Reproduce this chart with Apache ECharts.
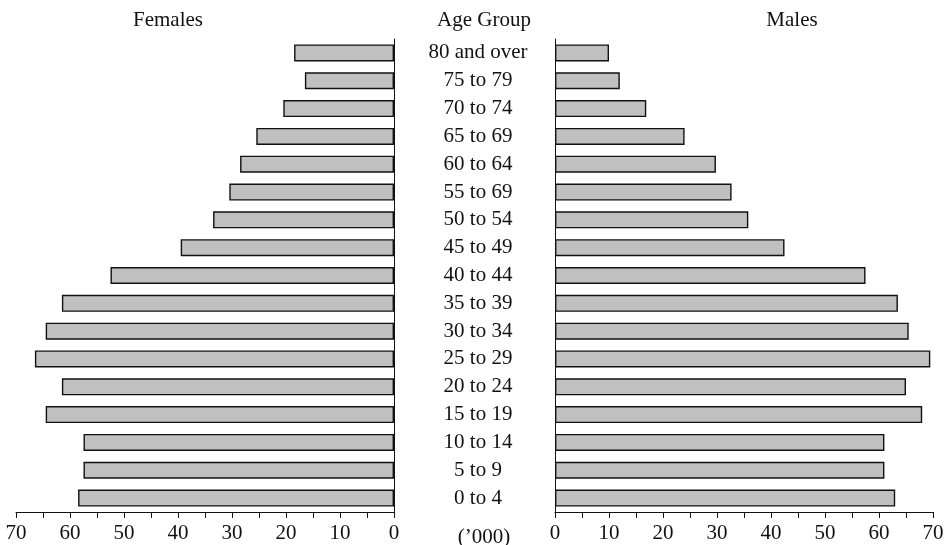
<!DOCTYPE html>
<html><head><meta charset="utf-8">
<script src="https://cdn.jsdelivr.net/npm/echarts@6/dist/echarts.min.js"></script>
<style>html,body{margin:0;padding:0;background:#fff}#c{width:951px;height:545px}</style>
</head><body><div id="c"></div>
<script>
const ageGroups = ['0 to 4','5 to 9','10 to 14','15 to 19','20 to 24','25 to 29','30 to 34','35 to 39','40 to 44','45 to 49','50 to 54','55 to 69','60 to 64','65 to 69','70 to 74','75 to 79','80 and over'];
const females = [58.5, 57.5, 57.5, 64.5, 61.5, 66.5, 64.5, 61.5, 52.5, 39.5, 33.5, 30.5, 28.5, 25.5, 20.5, 16.5, 18.5];
const males = [63, 61, 61, 68, 65, 69.5, 65.5, 63.5, 57.5, 42.5, 35.8, 32.7, 29.8, 24, 16.9, 12, 10];
const xTicks = { min: 0, max: 70, interval: 10 };

const FONT = '"Liberation Serif", "DejaVu Serif", serif';
const FS = 21;
const chart = echarts.init(document.getElementById('c'), null, { renderer: 'canvas' });
const barStyle = { color: '#c0c0c0', borderColor: '#111', borderWidth: 1.4 };
const xAxisCommon = {
  type: 'value', min: xTicks.min, max: xTicks.max, interval: xTicks.interval,
  axisLine: { show: true, lineStyle: { color: '#111', width: 1 } },
  axisTick: { show: true, length: 6, lineStyle: { color: '#111' } },
  minorTick: { show: true, splitNumber: 2, length: 6, lineStyle: { color: '#111' } },
  splitLine: { show: false },
  axisLabel: { color: '#111', fontFamily: FONT, fontSize: FS, margin: 11 }
};
const tStyle = { fontFamily: FONT, fontSize: FS, fontWeight: 'normal', color: '#111' };
chart.setOption({
  animation: false,
  textStyle: { fontFamily: FONT },
  grid: [
    { left: 16, top: 39, width: 378, height: 473 },
    { left: 555, top: 39, width: 378, height: 473 }
  ],
  title: [
    { text: 'Females', left: 163, top: 5, textAlign: 'center', textStyle: tStyle },
    { text: 'Age Group', left: 479, top: 5, textAlign: 'center', textStyle: tStyle },
    { text: 'Males', left: 787, top: 5, textAlign: 'center', textStyle: tStyle },
    { text: "(\u2019000)", left: 479, top: 522, textAlign: 'center', textStyle: tStyle }
  ],
  xAxis: [
    Object.assign({ gridIndex: 0, inverse: true }, xAxisCommon),
    Object.assign({ gridIndex: 1 }, xAxisCommon)
  ],
  yAxis: [
    { type: 'category', gridIndex: 0, data: ageGroups, position: 'right',
      axisLine: { show: true, lineStyle: { color: '#111' } }, axisTick: { show: false }, axisLabel: { show: false } },
    { type: 'category', gridIndex: 1, data: ageGroups, position: 'left',
      axisLine: { show: true, lineStyle: { color: '#111' } }, axisTick: { show: false },
      axisLabel: { show: true, align: 'center', margin: 77, color: '#111', fontFamily: FONT, fontSize: FS } }
  ],
  series: [
    { type: 'bar', name: 'Females', xAxisIndex: 0, yAxisIndex: 0, data: females, barWidth: 17, itemStyle: barStyle },
    { type: 'bar', name: 'Males', xAxisIndex: 1, yAxisIndex: 1, data: males, barWidth: 17, itemStyle: barStyle }
  ]
});
</script></body></html>
